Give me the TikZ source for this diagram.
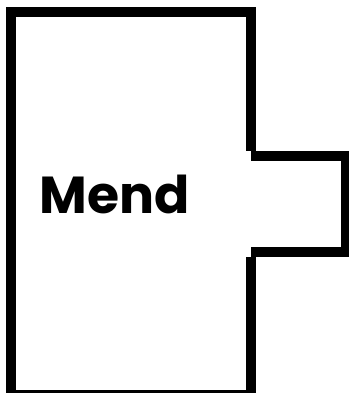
\documentclass[tikz,border=0pt]{standalone}
\usepackage{fontspec}
\setmainfont{Poppins}
\begin{document}
\begin{tikzpicture}[x=1pt,y=-1pt,
  wall/.style={line width=10pt,line cap=butt,black},
  lbl/.style={font=\fontsize{52}{52}\selectfont\bfseries,inner sep=0pt}]
\useasboundingbox (0,0) rectangle (348,393);
\coordinate (a) at (11,12);
\coordinate (b) at (251,12);
\coordinate (c) at (251,156);
\coordinate (d) at (346,156);
\coordinate (e) at (346,251.5);
\coordinate (f) at (251,251.5);
\coordinate (g) at (251,395);
\coordinate (h) at (11,395);
\draw[wall] ([xshift=-5pt]a) -- ([xshift=5pt]b);
\draw[wall] ([yshift=-5pt]b) -- ([yshift=5pt]c);
\draw[wall] (c) -- ([xshift=5pt]d);
\draw[wall] ([yshift=-5pt]d) -- ([yshift=5pt]e);
\draw[wall] ([xshift=5pt]e) -- (f);
\draw[wall] ([yshift=-5pt]f) -- ([yshift=5pt]g);
\draw[wall] ([xshift=5pt]g) -- ([xshift=-5pt]h);
\draw[wall] ([yshift=5pt]h) -- ([yshift=-5pt]a);
\node[lbl,anchor=base] (t) at (115,213) {Mend};
\end{tikzpicture}
\end{document}
